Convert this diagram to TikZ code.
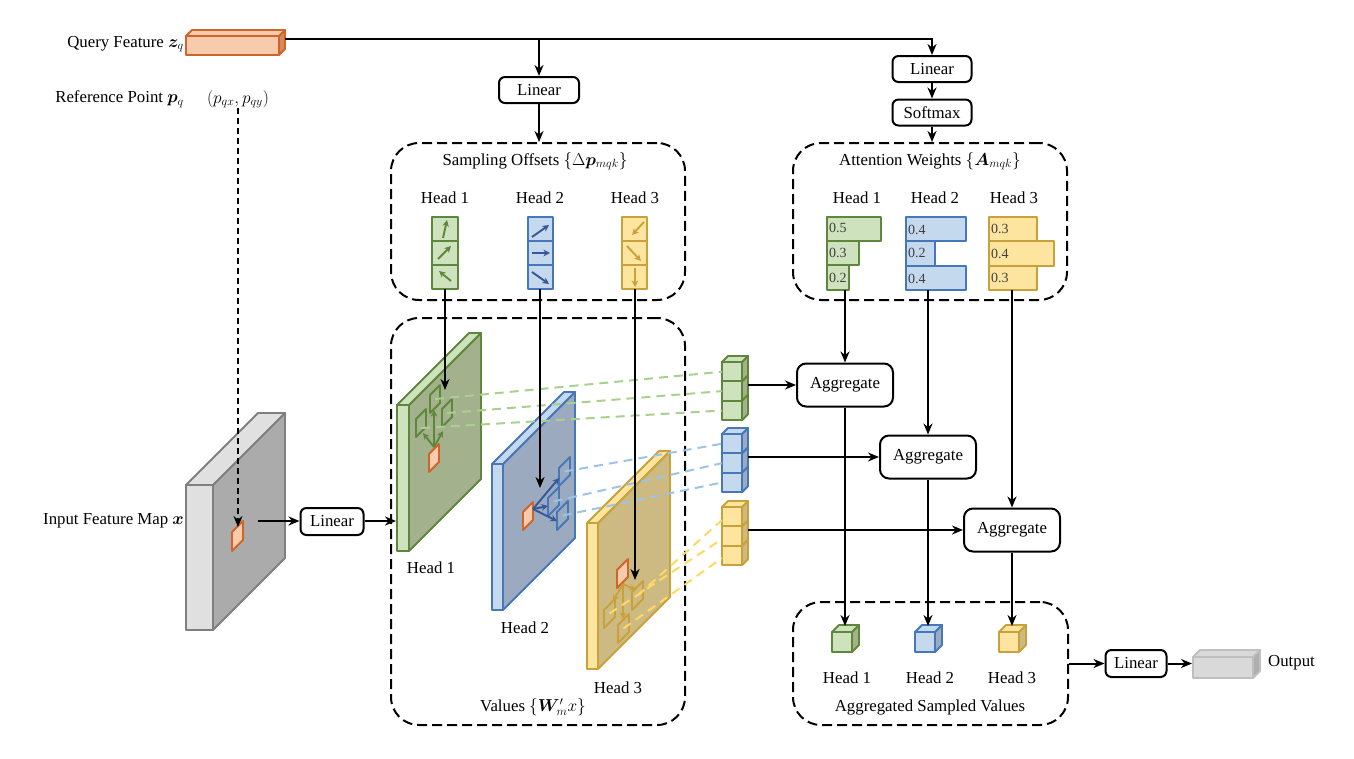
\documentclass[tikz,border=0pt]{standalone}
\usepackage{fontspec}
\setmainfont{Liberation Serif}
\usepackage{amsmath,bm}
\usetikzlibrary{arrows.meta,calc}
\definecolor{gfill}{HTML}{CDE2BD}
\definecolor{gline}{HTML}{5F873C}
\definecolor{gdark}{HTML}{A3B28D}
\definecolor{gdash}{HTML}{A9D18E}
\definecolor{bfill}{HTML}{C4D9EE}
\definecolor{bline}{HTML}{4677B9}
\definecolor{bdark}{HTML}{9BAABE}
\definecolor{bdash}{HTML}{9DC3E6}
\definecolor{barrow}{HTML}{34589A}
\definecolor{yfill}{HTML}{FDE59F}
\definecolor{yline}{HTML}{C9A13A}
\definecolor{ydark}{HTML}{CDB982}
\definecolor{ydash}{HTML}{FFD966}
\definecolor{ofill}{HTML}{F8CBAD}
\definecolor{oline}{HTML}{D0652A}
\definecolor{oside}{HTML}{D4895C}
\definecolor{kfill}{HTML}{E0E0E0}
\definecolor{kdark}{HTML}{ABABAB}
\definecolor{kline}{HTML}{7F7F7F}
\definecolor{ofill2}{HTML}{D9D9D9}
\definecolor{oside2}{HTML}{AFAFAF}
\definecolor{oline2}{HTML}{BFBFBF}

\newcommand{\SlabC}[7]{%
  \filldraw[fill=#6,draw=#7,facest] (#1+#3,#2) -- ++(72,-72) -- ++(0,#4) -- ++(-72,72) -- cycle;
  \filldraw[fill=#5,draw=#7,facest] (#1,#2) rectangle ++(#3,#4);
  \filldraw[fill=#5,draw=#7,facest] (#1,#2) -- ++(#3,0) -- ++(72,-72) -- ++(-#3,0) -- cycle;
}
\newcommand{\StackC}[5]{%
  \foreach \i in {0,1,2} {
    \filldraw[fill=#3, draw=#5, facest] (#1,{#2+\i*19.4}) rectangle ++(20,19.4);
    \filldraw[fill=#4, draw=#5, facest] (#1+20,{#2+\i*19.4}) -- ++(6,-6) -- ++(0,19.4) -- ++(-6,6) -- cycle;
  }
  \filldraw[fill=#3, draw=#5, facest] (#1,#2) -- ++(6,-6) -- ++(20,0) -- ++(-6,6) -- cycle;
}
\newcommand{\CubeC}[6]{%
  \filldraw[fill=#4,draw=#6,facest] (#1,#2) rectangle ++(#3,#3);
  \filldraw[fill=#5,draw=#6,facest] (#1+#3,#2) -- ++(7,-7) -- ++(0,#3) -- ++(-7,7) -- cycle;
  \filldraw[fill=#4,draw=#6,facest] (#1,#2) -- ++(7,-7) -- ++(#3,0) -- ++(-7,7) -- cycle;
}
\newcommand{\PGc}[5]{%
  \draw[#1] (#2,#3) -- ++(#4,-#4) -- ++(0,#5) -- ++(-#4,#4) -- cycle;}

\begin{document}
\begin{tikzpicture}[x=1pt,y=-1pt,
  every node/.style={font=\fontsize{16.8}{19}\selectfont, inner sep=0pt},
  facest/.style={line width=1.9pt, line join=round},
  op/.style={draw, line width=2pt, rounded corners=6pt, minimum height=26pt, fill=white},
  agg/.style={op, rounded corners=9pt, minimum width=96pt, minimum height=43pt},
  grp/.style={draw, line width=2pt, dash pattern=on 10pt off 5pt, rounded corners=28pt},
  lnst/.style={line width=2pt},
  arr/.style={lnst, -{Stealth[length=11pt,width=9pt,inset=3.5pt]}},
  sarr/.style={line width=1.9pt, -{Stealth[length=6.5pt,width=6.5pt,inset=2pt]}},
  dsh/.style={line width=2pt, dash pattern=on 9pt off 6pt},
  numst/.style={font=\fontsize{14}{16}\selectfont, text=black!75, anchor=west},
]
\useasboundingbox (0,0) rectangle (1354,758);

% group boxes
\node[grp, minimum width=294pt, minimum height=157pt] (offs) at (538,221.5) {};
\node[grp, minimum width=294pt, minimum height=407pt] (vals) at (538,521.5) {};
\node[grp, minimum width=274pt, minimum height=157pt] (attw) at (930,221.5) {};
\node[grp, minimum width=275pt, minimum height=123pt] (asv) at (930.5,663.5) {};

\node (offt) at (535,161) {Sampling Offsets $\{\Delta\bm{p}_{mqk}\}$};
\node (attt) at (930,161) {Attention Weights $\{\bm{A}_{mqk}\}$};
\node (valt) at (533,707) {Values $\{\bm{W}'_m x\}$};
\node (asvt) at (930,707) {Aggregated Sampled Values};

% head labels
\node (oh1) at (445,198) {Head 1};
\node (oh2) at (540,198) {Head 2};
\node (oh3) at (635,198) {Head 3};
\node (ah1) at (857,198) {Head 1};
\node (ah2) at (935,198) {Head 2};
\node (ah3) at (1014,198) {Head 3};
\node (vh1) at (431,568) {Head 1};
\node (vh2) at (525,628) {Head 2};
\node (vh3) at (618,688) {Head 3};
\node (sh1) at (847,678) {Head 1};
\node (sh2) at (930,678) {Head 2};
\node (sh3) at (1012,678) {Head 3};

% left labels
\node[anchor=east] (qlab) at (184,44) {Query Feature $\bm{z}_q$};
\node[anchor=east] (rlab) at (184,99) {Reference Point $\bm{p}_q$};
\node (rcoord) at (238,99) {$(p_{qx}, p_{qy})$};
\node[anchor=east] (ilab) at (184,521) {Input Feature Map $\bm{x}$};

% query box
\filldraw[fill=ofill,draw=oline,facest] (186,36) rectangle (279,55);
\filldraw[fill=oside,draw=oline,facest] (279,36) -- (285,30) -- (285,49) -- (279,55) -- cycle;
\filldraw[fill=ofill,draw=oline,facest] (186,36) -- (192,30) -- (285,30) -- (279,36) -- cycle;
\coordinate (qout) at (285,39);

% operation nodes
\node[op, minimum width=80pt] (lin1) at (539,90) {Linear};
\node[op, minimum width=79pt] (lin2) at (932,69) {Linear};
\node[op, minimum width=79pt] (soft) at (932,112.5) {Softmax};
\node[op, minimum width=63pt, minimum height=27pt] (lin3) at (332,521.5) {Linear};
\node[op, minimum width=61pt, minimum height=27pt] (lin4) at (1136,663.5) {Linear};
\node[agg] (agg1) at (845,385) {Aggregate};
\node[agg] (agg2) at (928,457) {Aggregate};
\node[agg] (agg3) at (1012,530) {Aggregate};

% top connectors
\draw[arr] (qout) -| (lin2.north);
\draw[arr] (lin1.north |- qout) -- (lin1.north);
\draw[arr] (lin1.south) -- (lin1.south |- offs.north);
\draw[arr] (lin2.south) -- (soft.north);
\draw[arr] (soft.south) -- (soft.south |- attw.north);

% offset cells
\foreach \yy in {217,241,265} {
  \filldraw[fill=gfill,draw=gline,facest] (432,\yy) rectangle ++(26,24);
  \filldraw[fill=bfill,draw=bline,facest] (528,\yy) rectangle ++(25,24);
  \filldraw[fill=yfill,draw=yline,facest] (622,\yy) rectangle ++(25,24);
}
\draw[sarr,gline] (443,238) -- (447,220);
\draw[sarr,gline] (438,259) -- (451,246);
\draw[sarr,gline] (451,281) -- (439,271);
\draw[sarr,barrow] (532,237) -- (549,225);
\draw[sarr,barrow] (532,253) -- (550,253);
\draw[sarr,barrow] (532,272) -- (549,284);
\draw[sarr,yline] (644,222) -- (632,235);
\draw[sarr,yline] (627,246) -- (641,261);
\draw[sarr,yline] (635,268) -- (635,287);

% attention bars
\filldraw[fill=gfill,draw=gline,facest] (827,217) rectangle (881,241);
\filldraw[fill=gfill,draw=gline,facest] (827,241) rectangle (859,265);
\filldraw[fill=gfill,draw=gline,facest] (827,265) rectangle (849,290);
\filldraw[fill=bfill,draw=bline,facest] (906,217) rectangle (966,241);
\filldraw[fill=bfill,draw=bline,facest] (906,241) rectangle (935,266);
\filldraw[fill=bfill,draw=bline,facest] (906,266) rectangle (966,290);
\filldraw[fill=yfill,draw=yline,facest] (989,217) rectangle (1037,241);
\filldraw[fill=yfill,draw=yline,facest] (989,241) rectangle (1054,266);
\filldraw[fill=yfill,draw=yline,facest] (989,266) rectangle (1037,290);
\node[numst] (n11) at (829,228) {0.5};
\node[numst] (n12) at (829,253) {0.3};
\node[numst] (n13) at (829,277.5) {0.2};
\node[numst] (n21) at (908,229.5) {0.4};
\node[numst] (n22) at (908,252.5) {0.2};
\node[numst] (n23) at (908,279) {0.4};
\node[numst] (n31) at (991,229) {0.3};
\node[numst] (n32) at (991,253.5) {0.4};
\node[numst] (n33) at (991,278) {0.3};

% input feature map
\SlabC{186}{485}{27}{145}{kfill}{kdark}{kline}
\PGc{fill=ofill,draw=oline,facest}{232}{532}{11}{19}
\coordinate (ipt) at (238,527);
\draw[arr, dash pattern=on 6pt off 4pt] (rcoord.south) -- (ipt);
\coordinate (iout) at (258,521);
\coordinate (gin) at (396,521);
\draw[arr] (iout) -- (iout -| lin3.west);
\draw[arr] (lin3.east |- gin) -- (gin);

% value planes
\SlabC{397}{405}{12}{146}{gfill}{gdark}{gline}
\SlabC{492}{464}{11}{146}{bfill}{bdark}{bline}
\SlabC{587}{523}{11}{146}{yfill}{ydark}{yline}

% green samples
\PGc{fill=ofill,draw=oline,facest}{429}{454}{10}{18}
\PGc{draw=gline,facest}{430}{395}{10}{18}
\PGc{draw=gline,facest}{416}{419}{10}{18}
\PGc{draw=gline,facest}{442}{409}{10}{18}
\coordinate (gp) at (434,447);
\draw[sarr,gline] (gp) -- (434,410);
\draw[sarr,gline] (gp) -- (423,433);
\draw[sarr,gline] (gp) -- (443,431);

% blue samples
\PGc{fill=ofill,draw=oline,facest}{523}{512}{10}{18}
\PGc{draw=bline,facest}{559}{468}{11}{18}
\PGc{draw=bline,facest}{548}{498}{11}{18}
\PGc{draw=bline,facest}{557}{512}{11}{18}
\coordinate (bp) at (533,509);
\draw[sarr,barrow] (bp) -- (559,478);
\draw[sarr,barrow] (bp) -- (548,506);
\draw[sarr,barrow] (bp) -- (557,521);

% yellow samples
\PGc{fill=ofill,draw=oline,facest}{617}{570}{11}{18}
\PGc{draw=yline,facest}{632}{592}{11}{18}
\PGc{draw=yline,facest}{604}{610}{11}{18}
\PGc{draw=yline,facest}{618}{625}{11}{18}
\coordinate (yp) at (623,584);
\draw[sarr,yline] (yp) -- (636,590);
\draw[sarr,yline] (yp) -- (613,601);
\draw[sarr,yline] (yp) -- (623,619);

% stacks
\StackC{722}{362}{gfill}{gdark}{gline}
\StackC{722}{434}{bfill}{bdark}{bline}
\StackC{722}{507}{yfill}{ydark}{yline}

% dashed sample lines
\draw[dsh,gdash] (435,399) -- (722,371.7);
\draw[dsh,gdash] (447,413) -- (722,391.1);
\draw[dsh,gdash] (421,428) -- (722,410.5);
\draw[dsh,bdash] (564.5,471.5) -- (722,443.7);
\draw[dsh,bdash] (553.5,501.5) -- (722,463.1);
\draw[dsh,bdash] (562.5,515.5) -- (722,482.5);
\draw[dsh,ydash] (637.5,595.5) -- (722,520);
\draw[dsh,ydash] (609.5,613.5) -- (722,539);
\draw[dsh,ydash] (623.5,628.5) -- (722,558);

% arrows from offsets into planes
\coordinate (gob) at (445,289);
\coordinate (bob) at (540,289);
\coordinate (yob) at (635,289);
\coordinate (gtg) at (445,390);
\coordinate (btg) at (540,488);
\coordinate (ytg) at (635,580);
\draw[arr] (gob) -- (gtg);
\draw[arr] (bob) -- (btg);
\draw[arr] (yob) -- (ytg);

% attention to aggregate
\coordinate (gab) at (845,290);
\coordinate (bab) at (928,290);
\coordinate (yab) at (1012,290);
\draw[arr] (gab) -- (agg1.north);
\draw[arr] (bab) -- (agg2.north);
\draw[arr] (yab) -- (agg3.north);

% stacks to aggregate
\coordinate (gsr) at (748,385);
\coordinate (bsr) at (748,457);
\coordinate (ysr) at (748,530);
\draw[arr] (gsr) -- (agg1.west);
\draw[arr] (bsr) -- (agg2.west);
\draw[arr] (ysr) -- (agg3.west);

% aggregated cubes
\CubeC{832}{632}{20}{gfill}{gdark}{gline}
\CubeC{915}{632}{20}{bfill}{bdark}{bline}
\CubeC{999}{632}{20}{yfill}{ydark}{yline}
\coordinate (gc) at (845,626);
\coordinate (bc) at (928,626);
\coordinate (yc) at (1012,626);
\draw[arr] (agg1.south) -- (gc);
\draw[arr] (agg2.south) -- (bc);
\draw[arr] (agg3.south) -- (yc);

% output
\draw[arr] (asv.east |- lin4.west) -- (lin4.west);
\filldraw[fill=ofill2,draw=oline2,facest] (1193,657) rectangle (1253,678);
\filldraw[fill=oside2,draw=oline2,facest] (1253,657) -- (1260,650) -- (1260,671) -- (1253,678) -- cycle;
\filldraw[fill=ofill2,draw=oline2,facest] (1193,657) -- (1200,650) -- (1260,650) -- (1253,657) -- cycle;
\coordinate (oin) at (1192,663.5);
\draw[arr] (lin4.east) -- (oin);
\node[anchor=west] (outl) at (1268,663) {Output};
\end{tikzpicture}
\end{document}
